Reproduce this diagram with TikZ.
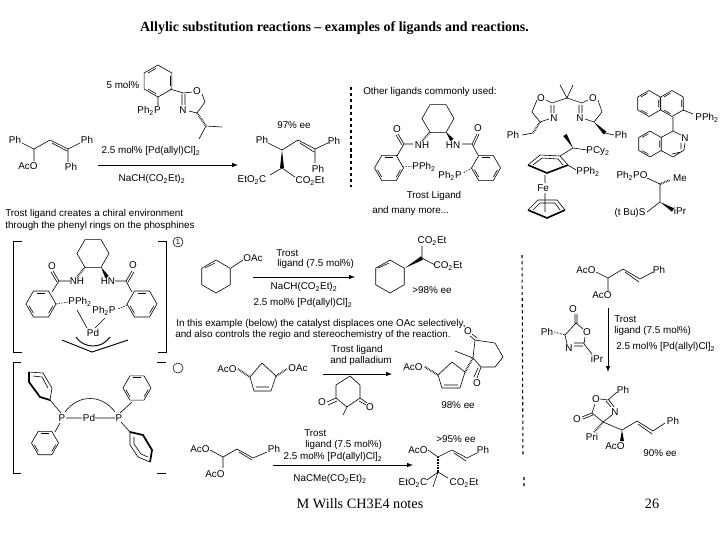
\documentclass[tikz,border=0pt]{standalone}
\usepackage{fontspec}
\setmainfont{Liberation Sans}
\newfontfamily\serifface{Liberation Serif}
\usetikzlibrary{arrows,calc,positioning}
\tikzset{%
	bond/.style   = {line width=0.45pt},
	hash/.style   = {line width=1.5pt,dash pattern=on 0.45pt off 0.75pt},
	rxn/.style    = {line width=0.55pt,-latex,>=stealth},
	sepline/.style= {line width=0.8pt,dash pattern=on 2.4pt off 2.2pt},
	lab/.style    = {inner sep=0pt,font=\fontsize{7.4}{8}\selectfont},
	note/.style   = {lab,anchor=west},
	foot/.style   = {inner sep=0pt,font=\serifface\fontsize{10.7}{12}\selectfont},
}
\newcommand{\sbs}[1]{\textsubscript{#1}}
\newcommand{\hexring}[4]{\draw[bond,shift={(#1,#2)},rotate=#4] (0:#3) -- (60:#3) -- (120:#3) -- (180:#3) -- (240:#3) -- (300:#3) -- cycle;}
\newcommand{\aromring}[4]{\hexring{#1}{#2}{#3}{#4}
	\foreach \a in {0,120,240} \draw[bond,shift={(#1,#2)},rotate=#4] (\a+9:0.8*#3) -- (\a+51:0.8*#3);}
\newcommand{\wedgeb}[2]{\fill (#1) -- ($(#2)!1.5pt!90:(#1)$) -- ($(#2)!1.5pt!-90:(#1)$) -- cycle;}
\begin{document}
\begin{tikzpicture}[x=0.75pt,y=-0.75pt]
	\useasboundingbox (0,0) rectangle (720,540);
	\node[inner sep=0pt,font=\serifface\bfseries\fontsize{10.5}{12}\selectfont] (title) at (334.5,28) {Allylic substitution reactions – examples of ligands and reactions.};
	\node[foot] (footer) at (360,504) {M Wills CH3E4 notes};
	\node[foot] (page) at (652,504) {26};
	
	% first reaction
	\draw[bond] (22,143) -- (34,149) -- (50,140) -- (68,149) -- (80,143) (68,149) -- (68,162) (34,149) -- (34,161) (52,143) -- (67,151);
	\node[lab] (ph1) at (15,140) {Ph};
	\node[lab] (ph2) at (87,140) {Ph};
	\node[lab] (ph3) at (71,167) {Ph};
	\node[lab] (aco1) at (28,166) {AcO};
	\node[lab] (mol1) at (123,85) {5 mol\%};
	\aromring{158}{81}{16}{30}
	\node[lab] (pph1) at (149,111) {Ph\sbs{2}P};
	\node[lab] (oxo1) at (197,91) {O};
	\node[lab] (oxn1) at (183,110) {N};
	\draw[bond] (158,97) -- (158,106) (170,89) -- (183,93) -- (192,92) (202,94) -- (205,102) -- (197,113) -- (189,111) (182,94) -- (182,105) (185,94) -- (185,105) (206,126) -- (222,127) (206,126) -- (199,139);
	\draw[hash] (197,113) -- (206,126);
	\node[lab] (cat1) at (151,151) {2.5 mol\% [Pd(allyl)Cl]\sbs{2}};
	\draw[rxn] (98,165) -- (238,165);
	\node[lab] (nu1) at (152,179) {NaCH(CO\sbs{2}Et)\sbs{2}};
	\node[lab] (ee1) at (294,125) {97\% ee};
	\draw[bond] (268,143) -- (282,150) -- (298,140) -- (315,149) -- (328,143) (300,143) -- (314,152) (315,149) -- (315,163) (282,168) -- (270,175) (282,168) -- (295,177);
	\wedgeb{282,150}{282,168}
	\node[lab] (ph4) at (262,140) {Ph};
	\node[lab] (ph5) at (334,141) {Ph};
	\node[lab] (ph6) at (318,169) {Ph};
	\node[lab] (est1) at (252,180) {EtO\sbs{2}C};
	\node[lab] (est2) at (310,181) {CO\sbs{2}Et};
	\draw[sepline] (351,87) -- (351,187);
	
	% other ligands
	\node[note] (other) at (363,92) {Other ligands commonly used:};
	\hexring{438}{118.5}{16}{0}
	\draw[hash] (430,132) -- (422,141);
	\wedgeb{446,132}{452,140}
	\node[lab] (nh1) at (422,145) {NH};
	\node[lab] (hn1) at (453,145) {HN};
	\draw[bond] (413,144) -- (404,144) -- (398,134) (402,145) -- (396,135) (404,144) -- (397,156) (462,144) -- (472,144) -- (477,134) (474,145) -- (479,134) (472,144) -- (478,155);
	\node[lab] (o1) at (397,129) {O};
	\node[lab] (o2) at (478,128) {O};
	\aromring{389}{168}{14.5}{0}
	\aromring{486}{168}{14.5}{0}
	\draw[bond,dash pattern=on 1pt off 1pt] (403,167) -- (413,166) (472,168) -- (463,173);
	\node[lab] (pph2) at (424,167) {PPh\sbs{2}};
	\node[lab] (pph3) at (450,176) {Ph\sbs{2}P};
	\node[lab] (tl) at (434,196) {Trost Ligand};
	\node[note] (many) at (372,211) {and many more...};
	
	\draw[bond] (560,85) -- (567,98) -- (573,85) (552,103) -- (567,98) -- (582,103) (552,103) -- (546,100) (537,100) -- (532,112) -- (540,122) -- (549,119) (551,105) -- (551,113) (554,105) -- (554,113) (582,103) -- (588,100) (598,100) -- (602,112) -- (594,122) -- (585,119) (579,105) -- (579,113) (582,105) -- (582,113) (533,133) -- (522,135) (605,133) -- (614,135);
	\node[lab] (o3) at (541,98) {O};
	\node[lab] (n3) at (554,118) {N};
	\node[lab] (o4) at (593,98) {O};
	\node[lab] (n4) at (580,118) {N};
	\node[lab] (ph7) at (513,135) {Ph};
	\node[lab] (ph8) at (621,135) {Ph};
	\draw[hash] (540,122) -- (533,133);
	\wedgeb{594,122}{605,133}
	
	\aromring{649}{103.5}{13}{30}
	\aromring{672}{103.5}{13}{30}
	\aromring{650}{144}{13}{30}
	\draw[bond] (661,137.5) -- (673,131) -- (681,135) (685,143) -- (684,150) -- (673,157) -- (661,150.5) (681,143) -- (681,149) (681,152) -- (672,154) (673,117) -- (673,131) (683,110) -- (693,114);
	\node[lab] (n5) at (685,138) {N};
	\node[lab] (pph4) at (707,118) {PPh\sbs{2}};
	
	% ferrocene
	\draw[bond] (528,165) -- (540,155) -- (560,156) -- (568,165) (533,165) -- (542,158) -- (558,159) -- (563,165);
	\draw[line width=1.2pt] (528,165) -- (547,173) -- (568,165);
	\draw[bond] (560,156) -- (573,148) -- (587,150) (568,165) -- (576,170) (545,175) -- (545,183) (545,193) -- (545,212);
	\wedgeb{573,148}{565,135}
	\node[lab] (pcy) at (598,151) {PCy\sbs{2}};
	\node[lab] (pph5) at (588,172) {PPh\sbs{2}};
	\node[lab] (fe) at (543,188) {Fe};
	\draw[bond] (528,210) -- (538,200) -- (557,200) -- (565,210) (533,210) -- (540,203) -- (555,203) -- (560,210);
	\draw[line width=1.2pt] (528,210) -- (547,218) -- (565,210);
	
	\draw[bond] (647,178) -- (660,184) -- (660,202) -- (647,212);
	\draw[hash] (660,184) -- (670,180);
	\wedgeb{660,202}{673,210}
	\node[lab] (ppo) at (632,176) {Ph\sbs{2}PO};
	\node[lab] (me1) at (680,178) {Me};
	\node[lab] (sbu) at (630,213) {(t Bu)S};
	\node[lab] (ipr1) at (680,211) {iPr};
	
	% ligand with palladium
	\node[note] (cm1) at (5,214) {Trost ligand creates a chiral environment};
	\node[note] (cm2) at (5,226) {through the phenyl rings on the phosphines};
	\draw[line width=0.7pt] (22,241) -- (13,241) -- (13,352) -- (22,352) (158,241) -- (166,241) -- (166,352) -- (158,352);
	\draw[line width=0.7pt] (21,362) -- (13,362) -- (13,473) -- (21,473) (157,362) -- (166,362) (157,473) -- (166,473);
	\node[draw,circle,line width=0.4pt,inner sep=0pt,minimum size=7.5pt,font=\fontsize{5.5}{6}\selectfont] (one) at (178,242) {1};
	\node[draw,circle,line width=0.4pt,inner sep=0pt,minimum size=7.5pt] (two) at (178,368) {};
	
	\hexring{93}{253.5}{16}{0}
	\draw[hash] (85,267) -- (77,277);
	\wedgeb{101,267}{107,277}
	\node[lab] (nh2) at (77,281) {NH};
	\node[lab] (hn2) at (108,281) {HN};
	\draw[bond] (70,281) -- (59,281) -- (53,271) (57,282) -- (51,272) (59,281) -- (52,292) (115,281) -- (126,281) -- (132,271) (128,282) -- (134,272) (126,281) -- (132,292);
	\node[lab] (o5) at (52,266) {O};
	\node[lab] (o6) at (133,265) {O};
	\aromring{41}{304}{15}{0}
	\aromring{142}{304}{15}{0}
	\draw[bond,dash pattern=on 1pt off 1pt] (56,304) -- (68,302) (127,305) -- (118,309);
	\node[lab] (pph6) at (80,302) {PPh\sbs{2}};
	\node[lab] (pph7) at (104,311) {Ph\sbs{2}P};
	\node[lab] (pd1) at (93,333) {Pd};
	\draw[bond] (77,310) -- (87,328) (105,318) -- (95,328);
	\draw[line width=0.7pt] (76,337) .. controls (84,349) and (102,349) .. (110,337) (62,340) -- (92,352) -- (128,340);
	
	\node[lab] (p1) at (62,418) {P};
	\node[lab] (pd2) at (89,418) {Pd};
	\node[lab] (p2) at (119,418) {P};
	\draw[bond] (66,418) -- (82,418) (95,418) -- (115,418) (65,412) .. controls (78,394) and (102,394) .. (115,412) (61,413) -- (50,400) (60,423) -- (55,432) (120,413) -- (132,402) (121,422) -- (130,432);
	\draw[bond] (29,372) -- (43,373) -- (52,388) -- (50,400) (33,376) -- (42,377) -- (48,388);
	\draw[line width=1.3pt] (29,372) -- (29,382) -- (40,397) -- (50,400);
	\aromring{45}{443}{13.5}{0}
	\aromring{137}{388}{14}{0}
	\draw[bond] (130,432) -- (130,445) -- (138,457) -- (150,462) (134,437) -- (134,444) -- (141,454) -- (148,457);
	\draw[line width=1.3pt] (130,432) -- (143,435) -- (152,450) -- (150,462);
	
	% cyclohexene example
	\hexring{216}{276.5}{16.5}{30}
	\draw[bond] (205,268) -- (215,263) (231,268) -- (243,260);
	\node[lab] (oac1) at (253,258) {OAc};
	\node[note] (tr1) at (276,253) {Trost};
	\node[note] (tr2) at (277,264) {ligand (7.5 mol\%)};
	\draw[rxn] (253,277) -- (355,277);
	\node[lab] (nu2) at (304,287) {NaCH(CO\sbs{2}Et)\sbs{2}};
	\node[lab] (cat2) at (303,303) {2.5 mol\% [Pd(allyl)Cl]\sbs{2}};
	\hexring{390}{276.5}{16.5}{30}
	\draw[bond] (378,268) -- (389,263) (422,258) -- (422,246) (422,258) -- (435,265);
	\wedgeb{405,268}{422,258}
	\node[lab] (est3) at (432,241) {CO\sbs{2}Et};
	\node[lab] (est4) at (448,266) {CO\sbs{2}Et};
	\node[lab] (ee2) at (432,290) {>98\% ee};
	
	\node[note] (ex1) at (176,324) {In this example (below) the catalyst displaces one OAc selectively,};
	\node[note] (ex2) at (175,335) {and also controls the regio and stereochemistry of the reaction.};
	
	% cyclopentene example
	\draw[bond] (250,377) -- (262,363) -- (276,376) -- (271,391) -- (254,391) -- cycle (256,387) -- (269,387);
	\draw[hash] (238,369) -- (250,377) (276,376) -- (287,369);
	\node[lab] (aco2) at (227,369) {AcO};
	\node[lab] (oac2) at (298,368) {OAc};
	\node[lab] (tl2) at (357,350) {Trost ligand};
	\node[lab] (pdl) at (361,361) {and palladium};
	\draw[rxn] (323,374) -- (392,374);
	\draw[bond] (336,385) -- (350,376) -- (360,385) -- (360,398) -- (347,407) -- (336,398) -- cycle (336,398) -- (327,402) (337,401) -- (328,405) (360,398) -- (367,403) (359,401) -- (366,405) (347,407) -- (343,415);
	\node[lab] (o7) at (322,402) {O};
	\node[lab] (o8) at (370,407) {O};
	\node[lab] (aco3) at (413,367) {AcO};
	\draw[bond] (438,375) -- (452,362) -- (465,372) -- (460,388) -- (442,388) -- cycle (444,385) -- (458,385);
	\draw[hash] (425,367) -- (438,375) (465,372) -- (473,358);
	\draw[bond] (473,358) -- (455,351) (473,358) -- (475,340) -- (495,343) -- (503,357) -- (495,367) -- (481,367) -- cycle (475,340) -- (470,336) (477,338) -- (472,334) (481,367) -- (477,378) (478,368) -- (474,377);
	\node[lab] (o9) at (468,331) {O};
	\node[lab] (o10) at (477,383) {O};
	\node[lab] (ee3) at (458,405) {98\% ee};
	
	% bottom reaction
	\draw[bond] (210,450) -- (223,457) -- (237,449) -- (253,458) -- (267,452) (239,452) -- (252,460) (223,457) -- (223,468);
	\node[lab] (aco4) at (200,449) {AcO};
	\node[lab] (aco5) at (215,474) {AcO};
	\node[lab] (ph9) at (274,449) {Ph};
	\node[note] (tr3) at (304,433) {Trost};
	\node[note] (tr4) at (305,445) {ligand (7.5 mol\%)};
	\node[lab] (cat3) at (333,457) {2.5 mol\% [Pd(allyl)Cl]\sbs{2}};
	\draw[rxn] (273,465) -- (413,465);
	\node[lab] (nu3) at (330,479) {NaCMe(CO\sbs{2}Et)\sbs{2}};
	\node[lab] (ee4) at (456,439) {>95\% ee};
	\node[lab] (aco6) at (418,450) {AcO};
	\draw[bond] (428,450) -- (438,457) -- (452,450) -- (467,458) -- (477,453) (454,453) -- (466,461) (438,472) -- (427,480) (438,472) -- (448,478) (438,472) -- (433,487);
	\draw[hash] (438,457) -- (438,472);
	\node[lab] (ph10) at (483,450) {Ph};
	\node[lab] (est5) at (413,483) {EtO\sbs{2}C};
	\node[lab] (est6) at (464,483) {CO\sbs{2}Et};
	
	% right hand example
	\draw[sepline] (522,255) -- (523,457) (524,477) -- (524,486);
	\draw[bond] (596,272) -- (608,278) -- (623,269) -- (640,279) -- (653,272) (625,272) -- (639,282) (608,278) -- (608,291);
	\node[lab] (aco7) at (586,270) {AcO};
	\node[lab] (aco8) at (602,295) {AcO};
	\node[lab] (ph11) at (659,270) {Ph};
	\draw[rxn] (608,308) -- (608,372);
	\node[note] (tr5) at (614,319) {Trost};
	\node[note] (tr6) at (614,331) {ligand (7.5 mol\%)};
	\node[note] (cat4) at (616,347) {2.5 mol\% [Pd(allyl)Cl]\sbs{2}};
	\node[lab] (o11) at (573,309) {O};
	\node[lab] (o12) at (587,332) {O};
	\node[lab] (n6) at (569,348) {N};
	\node[lab] (ph12) at (547,332) {Ph};
	\node[lab] (ipr2) at (597,359) {iPr};
	\draw[bond] (575,314) -- (575,323) (577,314) -- (577,323) (576,323) -- (583,329) (585,337) -- (584,344) (574,343) -- (584,343) (574,346) -- (583,346) (584,344) -- (592,354) (567,344) -- (565,335) -- (576,323);
	\draw[bond,dash pattern=on 1.5pt off 1pt] (565,335) -- (554,332);
	\node[lab] (ph13) at (623,390) {Ph};
	\node[lab] (o13) at (596,399) {O};
	\node[lab] (n7) at (615,412) {N};
	\node[lab] (o14) at (577,419) {O};
	\node[lab] (pri) at (592,437) {Pri};
	\node[lab] (aco9) at (615,446) {AcO};
	\node[lab] (ph14) at (673,421) {Ph};
	\node[lab] (ee5) at (660,453) {90\% ee};
	\draw[bond] (617,392) -- (608,400) -- (600,399) (595,404) -- (592,413) -- (603,422) -- (612,415) (614,407) -- (609,400) (611,407) -- (606,401) (592,413) -- (582,417) (593,415) -- (583,419) (603,422) -- (622,430) -- (637,421) -- (653,431) -- (665,423) (638,424) -- (652,434);
	\draw[hash] (603,422) -- (594,432);
	\wedgeb{622,430}{622,441}
\end{tikzpicture}
\end{document}
